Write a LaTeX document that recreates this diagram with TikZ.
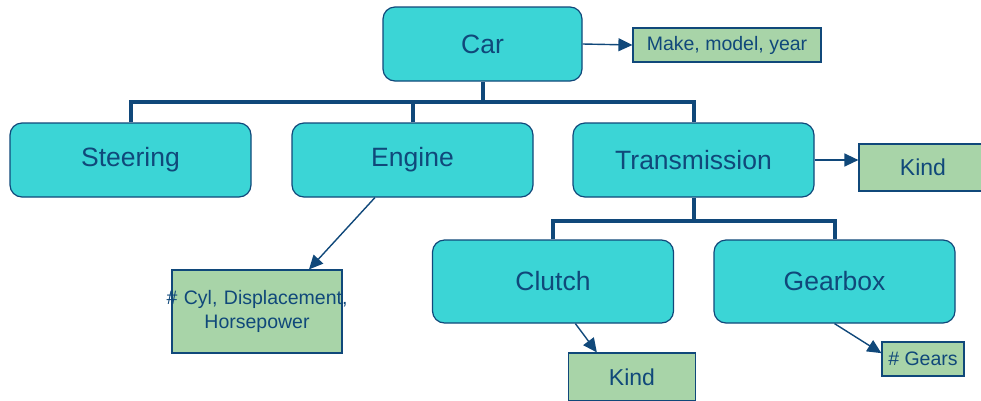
\documentclass[tikz,border=0pt]{standalone}
\usepackage{fontspec}
\setmainfont{Liberation Sans}
\usetikzlibrary{arrows.meta}
\definecolor{partfill}{HTML}{3BD5D6}
\definecolor{notefill}{HTML}{A8D4A8}
\definecolor{navy}{HTML}{10487A}

\begin{document}
\begin{tikzpicture}[x=1pt, y=-1pt,
  part/.style={draw=navy, line width=1.2pt, fill=partfill, rounded corners=12pt, minimum width=241pt, minimum height=74pt, inner sep=0pt, text=navy, font=\fontsize{26.5}{30}\selectfont},
  note/.style={draw=navy, line width=1.2pt, fill=notefill, inner sep=0pt, text=navy, font=\fontsize{19.5}{23.5}\selectfont},
  tree/.style={draw=navy, line width=4pt},
  link/.style={draw=navy, line width=1.4pt, -{Triangle[length=14pt, width=13pt]}}]
\useasboundingbox (0,0) rectangle (981,400);
% Car
\node[part, minimum width=199pt] (car) at (482.5,44) {Car};
\node[note, minimum width=188pt, minimum height=34pt] (make) at (727,45) {Make, model, year};
% Parts
\node[part] (steer) at (130.5,160) {Steering};
\node[part] (engine) at (412.5,160) {Engine};
\node[part] (trans) at (693.5,160) {Transmission};
\node[note, minimum width=128pt, minimum height=47pt, font=\fontsize{23}{27}\selectfont] (kindt) at (923,167.5) {Kind};
\node[note, text width=182pt, inner xsep=-6pt, minimum height=83pt, align=center] (cyl) at (257,311.5) {\# Cyl, Displacement,\\Horsepower};
% Transmission parts
\node[part, minimum height=83pt] (clutch) at (553,281.5) {Clutch};
\node[part, minimum height=83pt] (gearbox) at (834.5,281.5) {Gearbox};
\node[note, minimum width=127pt, minimum height=48pt, font=\fontsize{23}{27}\selectfont] (kindc) at (632,377) {Kind};
\node[note, minimum width=82pt, minimum height=34pt] (gears) at (923,359) {\# Gears};
% Tree
\path (steer.north) ++(0,-20) coordinate (bus);
\draw[tree] (steer.north) |- (bus -| trans.north) -- (trans.north);
\draw[tree] (car.south) -- (car.south |- bus);
\draw[tree] (engine.north) -- (engine.north |- bus);
\path (clutch.north) ++(0,-18) coordinate (subbus);
\draw[tree] (trans.south) -- (trans.south |- subbus);
\draw[tree] (clutch.north) |- (subbus -| gearbox.north) -- (gearbox.north);
% Attributes
\draw[link] (car.east) -- (make.west);
\draw[link] (trans.east) -- (trans.east -| kindt.west);
\draw[link] (engine.225) -- (cyl.39);
\draw[link] (clutch.-62) -- (kindc.145);
\draw[link] (gearbox.south) -- (gears.172);
\end{tikzpicture}
\end{document}
